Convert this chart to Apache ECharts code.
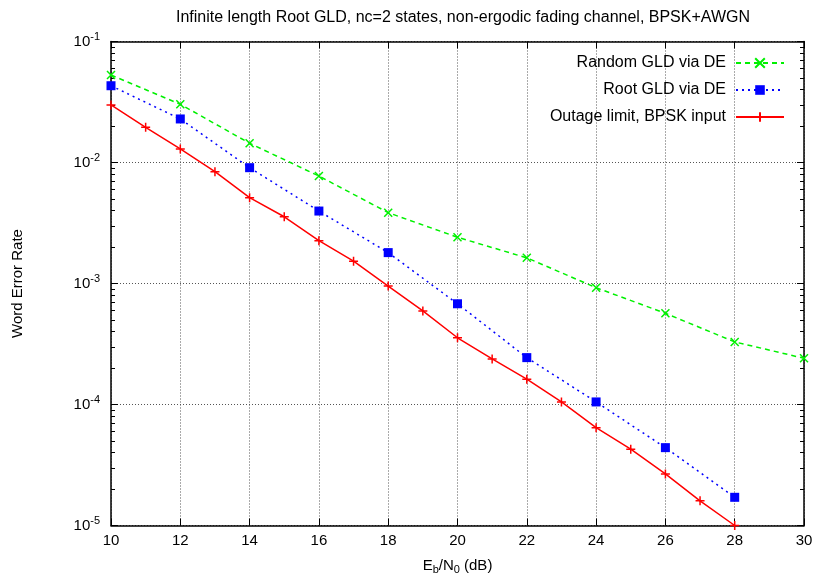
<!DOCTYPE html>
<html><head><meta charset="utf-8">
<script src="https://cdn.jsdelivr.net/npm/echarts@6/dist/echarts.min.js"></script>
<style>html,body{margin:0;padding:0;background:#fff}#c{width:817px;height:573px}</style>
</head><body><div id="c"></div>
<script>
const titleText = 'Infinite length Root GLD, nc=2 states, non-ergodic fading channel, BPSK+AWGN';
const xGreenBlue = [10, 12, 14, 16, 18, 20, 22, 24, 26, 28, 30];
const randomGLD = [0.0528, 0.0303, 0.01442, 0.00773, 0.00385, 0.00241, 0.00163, 0.000923, 0.000567, 0.000329, 0.000241];
const xBlue = [10, 12, 14, 16, 18, 20, 22, 24, 26, 28];
const rootGLD = [0.0431, 0.0229, 0.00906, 0.00397, 0.0018, 0.00068, 0.000244, 0.000105, 4.4e-5, 1.71e-5];
const xRed = [10, 11, 12, 13, 14, 15, 16, 17, 18, 19, 20, 21, 22, 23, 24, 25, 26, 27, 28];
const outage = [0.0299, 0.01954, 0.01294, 0.00839, 0.00512, 0.00356, 0.00226, 0.00153, 0.000953, 0.000593, 0.000356, 0.000238, 0.000162, 0.000105, 6.43e-5, 4.27e-5, 2.67e-5, 1.60e-5, 1.0e-5];
const seriesNames = ['Random GLD via DE', 'Root GLD via DE', 'Outage limit, BPSK input'];

// minor tick positions in log10 space (2..9 x each decade)
const minorLog = [];
for (let e = -5; e < -1; e++) for (let m = 2; m <= 9; m++) minorLog.push(e + Math.log10(m));

const font = 'Liberation Sans, Arial, Helvetica, sans-serif';
const green = '#00f000', blue = '#0000ff', red = '#ff0000';

function yAxisBase(pos, major) {
  if (major) {
    return {
      type: 'log', min: 1e-5, max: 0.1, logBase: 10, position: pos,
      axisLine: {show: true, onZero: false, lineStyle: {color: '#000', width: 1.5}},
      axisTick: {show: true, inside: true, length: 7, lineStyle: {color: '#000'}},
      axisLabel: {show: false},
      splitLine: {show: false}
    };
  }
  return {
    type: 'value', min: -5, max: -1, position: pos,
    axisLine: {show: false},
    axisTick: {show: true, inside: true, length: 4, customValues: minorLog, lineStyle: {color: '#000'}},
    axisLabel: {show: false},
    splitLine: {show: false}
  };
}
const yLeft = yAxisBase('left', true);
yLeft.axisLabel = {
  show: true, margin: 11, fontFamily: font, color: '#000',
  formatter: v => '{b|10}{s|' + Math.round(Math.log10(v)) + '}',
  rich: {b: {fontSize: 15, fontFamily: font, color: '#000'},
         s: {fontSize: 11, fontFamily: font, color: '#000', padding: [0, 0, 10, 0]}}
};
yLeft.splitLine = {show: true, lineStyle: {color: '#555', type: [1, 2], width: 1}};
yLeft.name = 'Word Error Rate';
yLeft.nameLocation = 'middle';
yLeft.nameGap = 86;
yLeft.nameTextStyle = {fontSize: 15, fontFamily: font, color: '#000'};

function xAxisBase(pos) {
  return {
    type: 'value', min: 10, max: 30, interval: 2, position: pos,
    axisLine: {show: true, onZero: false, lineStyle: {color: '#000', width: 1.5}},
    axisTick: {show: true, inside: true, length: 7, lineStyle: {color: '#000'}},
    axisLabel: {show: false},
    splitLine: {show: false}
  };
}
const xBottom = xAxisBase('bottom');
xBottom.axisLabel = {show: true, margin: 8, fontSize: 15, fontFamily: font, color: '#000'};
xBottom.splitLine = {show: true, lineStyle: {color: '#555', type: [1, 2], width: 1}};
xBottom.name = '{n|E}{s|b}{n|/N}{s|0}{n| (dB)}';
xBottom.nameLocation = 'middle';
xBottom.nameGap = 31;
xBottom.nameTextStyle = {rich: {
  n: {fontSize: 15, fontFamily: font, color: '#000'},
  s: {fontSize: 11, fontFamily: font, color: '#000', padding: [8, 0, 0, 0]}
}};

const pairs = (xs, ys) => xs.map((x, i) => [x, ys[i]]);

const option = {
  backgroundColor: '#fff',
  animation: false,
  title: {text: titleText, left: 458, textAlign: 'center', top: 5,
          textStyle: {fontSize: 16, fontWeight: 'normal', fontFamily: font, color: '#000'}},
  grid: {left: 111, right: 13, top: 41.5, bottom: 47.5, outerBoundsMode: 'none', containLabel: false},
  legend: {
    orient: 'vertical', right: 27, top: 50, align: 'right',
    itemWidth: 48, itemHeight: 12, itemGap: 11,
    textStyle: {fontSize: 16, fontFamily: font, color: '#000', padding: [0, 5, 0, 0]},
    data: seriesNames
  },
  xAxis: [xBottom, xAxisBase('top')],
  yAxis: [yLeft, yAxisBase('left', false), yAxisBase('right', true), yAxisBase('right', false)],
  series: [
    {name: seriesNames[0], type: 'line', data: pairs(xGreenBlue, randomGLD),
     symbol: 'path://M0,0L10,10M10,0L0,10', symbolSize: 8, showAllSymbol: true,
     itemStyle: {color: green, borderColor: green, borderWidth: 1.5},
     lineStyle: {color: green, width: 1.5, type: [5, 4]}},
    {name: seriesNames[1], type: 'line', data: pairs(xBlue, rootGLD),
     symbol: 'rect', symbolSize: 9, showAllSymbol: true,
     itemStyle: {color: blue},
     lineStyle: {color: blue, width: 1.5, type: [2, 4]}},
    {name: seriesNames[2], type: 'line', data: pairs(xRed, outage),
     symbol: 'path://M5,0L5,10M0,5L10,5', symbolSize: 9, showAllSymbol: true,
     itemStyle: {color: red, borderColor: red, borderWidth: 1.5},
     lineStyle: {color: red, width: 1.5}}
  ]
};
const chart = echarts.init(document.getElementById('c'), null, {renderer: 'canvas'});
chart.setOption(option);
</script></body></html>
